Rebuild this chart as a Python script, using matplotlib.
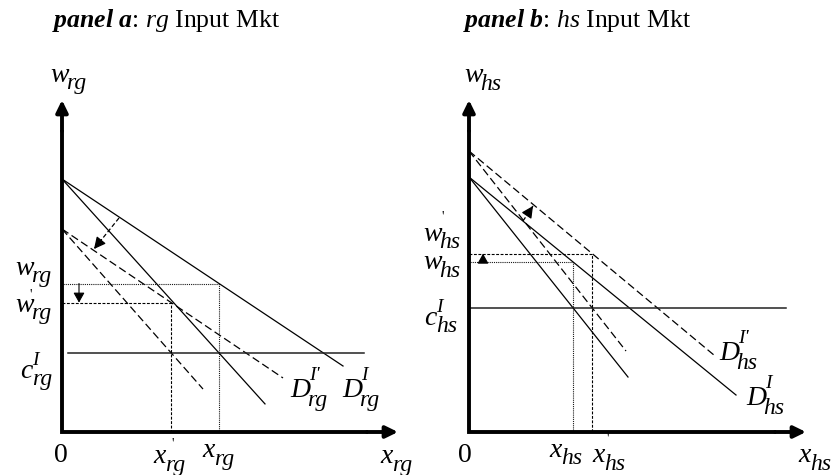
import matplotlib.pyplot as plt

plt.rcParams["font.family"] = "Liberation Serif"
plt.rcParams["mathtext.fontset"] = "custom"
plt.rcParams["mathtext.rm"] = "Liberation Serif"
plt.rcParams["mathtext.it"] = "Liberation Serif:italic"
plt.rcParams["mathtext.bf"] = "Liberation Serif:bold"
plt.rcParams["mathtext.bfit"] = "Liberation Serif:italic:bold"

# panel a: rg input market (solid = before, dashed = after the shift)
rg_axis_len = [33.6, 33.2]
rg_cost = 7.9
rg_cost_span = [0.6, 30.2]
rg_intercepts = [25.3, 20.3]
rg_demand_slopes = [0.6655, 0.674]
rg_demand_ends = [28.1, 22.1]
rg_mr_slopes = [1.108, 1.135]
rg_mr_ends = [20.3, 14.1]
rg_shift = [[5.7, 21.4], [3.2, 18.3]]

# panel b: hs input market
hs_axis_len = [33.7, 33.2]
hs_cost = 12.4
hs_cost_span = [0.0, 31.7]
hs_intercepts = [25.5, 28.1]
hs_demand_slopes = [0.8165, 0.833]
hs_demand_ends = [26.7, 24.5]
hs_mr_slopes = [1.258, 1.274]
hs_mr_ends = [15.9, 15.7]
hs_shift = [[5.4, 21.1], [6.4, 22.6]]

FS = 20
DASH = (6.2, 3.0)
# index placement after each italic base letter (in em): x offset, y offset
SUB_AT = {"w": (0.58, -0.27), "x": (0.44, -0.27), "c": (0.44, -0.27), "D": (0.62, -0.32)}
SUP_AT = {"c": (0.45, 0.48), "D": (0.7, 0.6)}


def sym(ax, x, y, base, sub, sup=None):
    """Italic symbol with a near full size subscript, baseline at (x, y)."""
    ax.annotate(base, (x, y), fontsize=FS, style="italic", ha="left", va="baseline")
    dx, dy = SUB_AT[base]
    ax.annotate(sub, (x, y), xytext=(dx * FS, dy * FS),
                textcoords="offset points", fontsize=0.85 * FS, style="italic",
                ha="left", va="baseline")
    if sup:
        dx, dy = SUP_AT[base]
        ax.annotate(sup, (x, y), xytext=(dx * FS, dy * FS),
                    textcoords="offset points", fontsize=0.7 * FS, style="italic",
                    ha="left", va="baseline")


def tick(ax, x, y):
    ax.text(x, y, "'", fontsize=10, ha="center", va="center")


def draw_axes(ax, lens):
    xl, yl = lens
    ax.plot([0, 0, xl - 3], [yl - 3, 0, 0], color="k", lw=2.8,
            solid_joinstyle="miter", solid_capstyle="butt")
    head = dict(arrowstyle="-|>,head_length=0.45,head_width=0.22", lw=2.8,
                color="k", mutation_scale=16, shrinkA=0, shrinkB=0)
    ax.annotate("", xy=(0, yl), xytext=(0, yl - 3.1), arrowprops=head)
    ax.annotate("", xy=(xl, 0), xytext=(xl - 3.1, 0), arrowprops=head)


def draw_market(ax, intercepts, d_slopes, d_ends, mr_slopes, mr_ends,
                cost, cost_span):
    styles = [dict(ls="-"), dict(ls="--", dashes=DASH)]
    eq = []
    for a, ds, de, ms, me, st in zip(intercepts, d_slopes, d_ends,
                                     mr_slopes, mr_ends, styles):
        ax.plot([0, de], [a, a - ds * de], color="k", lw=0.9, **st)
        ax.plot([0, me], [a, a - ms * me], color="k", lw=0.9, **st)
        x = (a - cost) / ms
        w = a - ds * x
        eq.append((x, w))
    ax.plot(cost_span, [cost, cost], color="#222222", lw=1.1)
    # guide lines to the axes
    (x0, w0), (x1, w1) = eq
    ax.plot([0, x0, x0], [w0, w0, 0], color="k", lw=0.8, dashes=(0.8, 0.9))
    ax.plot([0, x1, x1], [w1, w1, 0], color="k", lw=0.8, dashes=(2.6, 1.4))
    return eq


def shift_arrow(ax, pts):
    (xa, ya), (xb, yb) = pts
    ax.plot([xa, xb], [ya, yb], color="k", lw=0.9, dashes=(3.5, 2.0))
    ax.annotate("", xy=(xb, yb), xytext=(xa + (xb - xa) * 0.7, ya + (yb - ya) * 0.7),
                arrowprops=dict(arrowstyle="-|>,head_length=0.5,head_width=0.25",
                                lw=0.9, color="k", mutation_scale=14,
                                shrinkA=0, shrinkB=0))


def price_arrow(ax, x, y_from, y_to):
    ax.annotate("", xy=(x, y_to), xytext=(x, y_from),
                arrowprops=dict(arrowstyle="-|>,head_length=0.5,head_width=0.28",
                                lw=0.8, color="k", mutation_scale=12,
                                shrinkA=0, shrinkB=0))


fig = plt.figure(figsize=(8.32, 4.75), dpi=100)
ax_a = fig.add_axes([0, 0, 0.5, 1])
ax_b = fig.add_axes([0.5, 0, 0.5, 1])
ax_a.set_xlim(-6.2, 35.4)
ax_b.set_xlim(-5.3, 36.3)
for ax in (ax_a, ax_b):
    ax.set_ylim(-4.3, 43.2)
    ax.axis("off")

# panel a
eq_a = draw_market(ax_a, rg_intercepts, rg_demand_slopes, rg_demand_ends,
                   rg_mr_slopes, rg_mr_ends, rg_cost, rg_cost_span)
draw_axes(ax_a, rg_axis_len)
shift_arrow(ax_a, rg_shift)
(xa0, wa0), (xa1, wa1) = eq_a
price_arrow(ax_a, 1.7, wa0, wa1)

ax_a.text(-1.0, 40.5, r"$\mathbfit{panel\ a}$: $\mathit{rg}$ Input Mkt",
          fontsize=18.5, ha="left", va="baseline")
sym(ax_a, -1.2, 35.0, "w", "rg")
sym(ax_a, -4.7, wa0 + 0.9, "w", "rg")
tick(ax_a, -3.1, wa1 + 0.75)
sym(ax_a, -4.7, wa1 - 0.9, "w", "rg")
sym(ax_a, -4.2, rg_cost - 2.5, "c", "rg", "I")
ax_a.text(-0.1, -3.0, "0", fontsize=FS, ha="center", va="baseline")
tick(ax_a, xa1 + 0.1, -1.2)
sym(ax_a, xa1 - 1.8, -3.1, "x", "rg")
sym(ax_a, xa0 - 1.7, -2.5, "x", "rg")
sym(ax_a, 31.8, -3.1, "x", "rg")
sym(ax_a, 22.8, 3.5, "D", "rg", "I'")
sym(ax_a, 28.0, 3.5, "D", "rg", "I")

# panel b
eq_b = draw_market(ax_b, hs_intercepts, hs_demand_slopes, hs_demand_ends,
                   hs_mr_slopes, hs_mr_ends, hs_cost, hs_cost_span)
draw_axes(ax_b, hs_axis_len)
shift_arrow(ax_b, hs_shift)
(xb0, wb0), (xb1, wb1) = eq_b
price_arrow(ax_b, 1.4, wb0, wb1)

ax_b.text(-0.6, 40.5, r"$\mathbfit{panel\ b}$: $\mathit{hs}$ Input Mkt",
          fontsize=18.5, ha="left", va="baseline")
sym(ax_b, -0.5, 35.0, "w", "hs")
tick(ax_b, -2.6, wb1 + 3.7)
sym(ax_b, -4.6, wb1 + 1.3, "w", "hs")
sym(ax_b, -4.6, wb0 - 0.7, "w", "hs")
sym(ax_b, -4.5, hs_cost - 1.7, "c", "hs", "I")
ax_b.text(-0.4, -3.0, "0", fontsize=FS, ha="center", va="baseline")
sym(ax_b, xb0 - 2.4, -2.5, "x", "hs")
tick(ax_b, xb1 + 1.5, -0.7)
sym(ax_b, xb1 + 0.0, -3.0, "x", "hs")
sym(ax_b, 32.9, -3.0, "x", "hs")
sym(ax_b, 25.0, 7.2, "D", "hs", "I'")
sym(ax_b, 27.7, 2.7, "D", "hs", "I")

fig.savefig("out.png", dpi=100)
